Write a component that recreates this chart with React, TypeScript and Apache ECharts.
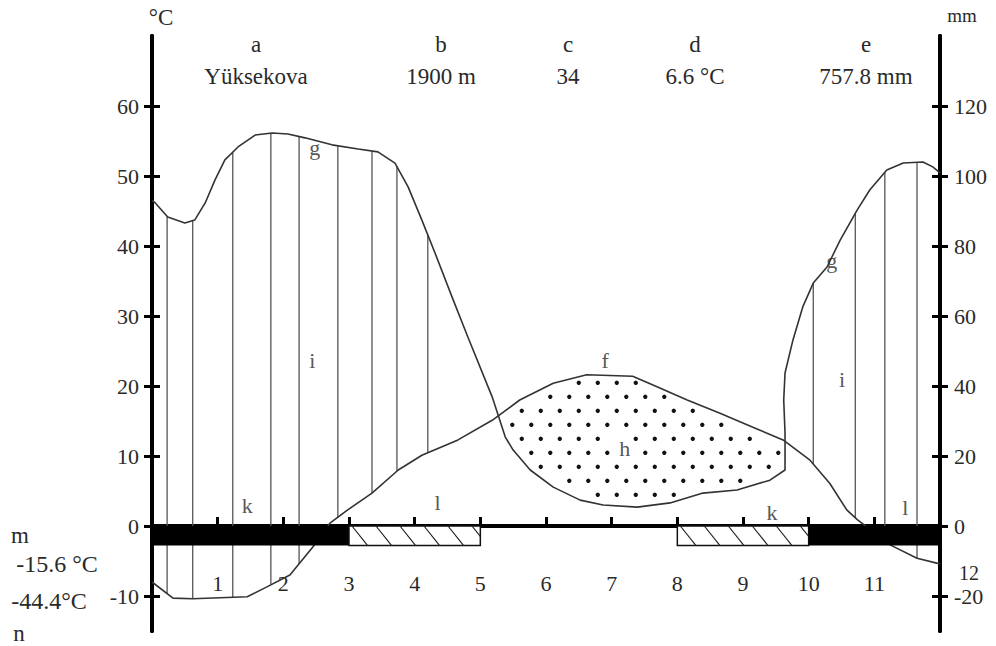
import React, { useEffect, useRef } from "react";
import * as echarts from "echarts";

// ---------- data ----------
const monthTicks = [1, 2, 3, 4, 5, 6, 7, 8, 9, 10, 11];
const lastMonthLabel = "12";
const temperatureTicks = [-10, 0, 10, 20, 30, 40, 50, 60];
const precipitationTicks = [-20, 0, 20, 40, 60, 80, 100, 120];

const stationLetters = ["a", "b", "c", "d", "e"];
const stationValues = ["Yüksekova", "1900 m", "34", "6.6 °C", "757.8 mm"];
const extremeLetters = ["m", "n"];
const extremeValues = ["-15.6 °C", "-44.4°C"];

// [month position, °C]
const temperatureCurve: [number, number][] = [
  [0, -8.0], [0.32, -10.3], [0.62, -10.4], [1.45, -10.1], [1.75, -8.7], [2.1, -7.0],
  [2.44, -3.1], [2.71, 0.4], [2.98, 2.3], [3.35, 4.7], [3.75, 8.0], [4.11, 10.1],
  [4.66, 12.3], [5.18, 15.1], [5.6, 18.0], [6.11, 20.4], [6.62, 21.6], [7.32, 21.4],
  [7.69, 19.9], [8.15, 18.0], [8.65, 16.1], [9.15, 14.1], [9.61, 12.3], [10.02, 9.4],
  [10.32, 6.1], [10.58, 2.3], [10.74, 0.9], [11.24, -2.7], [11.65, -4.6], [11.95, -5.3],
  [12, -5.4],
];

// [month position, mm]
const precipitationCurve: [number, number][] = [
  [0, 93.0], [0.05, 92.3], [0.24, 88.3], [0.5, 86.6], [0.65, 87.4], [0.81, 92.3],
  [0.96, 98.9], [1.11, 104.6], [1.31, 108.3], [1.57, 111.7], [1.83, 112.3], [2.07, 112.0],
  [2.33, 110.9], [2.74, 108.9], [3.14, 107.7], [3.44, 106.9], [3.7, 103.7], [3.9, 96.9],
  [4.11, 87.4], [4.31, 78.0], [4.57, 65.4], [4.81, 54.0], [5.18, 36.9], [5.38, 25.4],
  [5.5, 21.7], [5.76, 16.0], [6.11, 11.1], [6.52, 7.4], [6.87, 6.0], [7.39, 5.4],
  [7.89, 6.6], [8.39, 9.4], [8.91, 10.3], [9.41, 13.1], [9.64, 16.0], [9.64, 26.6],
  [9.62, 36.0], [9.64, 43.7], [9.76, 53.1], [9.91, 62.6], [10.07, 69.4], [10.28, 74.0],
  [10.48, 81.7], [10.74, 90.3], [10.93, 96.0], [11.19, 101.7], [11.44, 103.7],
  [11.74, 104.0], [11.89, 102.6], [12, 100.9],
];

// positions of the vertical hatch lines in the humid period (month positions)
const humidHatchMonths = [0.23, 0.62, 1.23, 1.81, 2.24, 2.83, 3.35, 3.73, 4.2, 10.07, 10.71, 11.16, 11.65];
// dry (arid) period: [start, end] month positions
const aridPeriod = [5.22, 9.64];
// frost spans: [start, end, 1 = certain frost (black), 0 = probable frost (hatched)]
const frostSpans: [number, number, number][] = [
  [0, 3, 1], [3, 5, 0], [8, 10, 0], [10, 12, 1],
];
const annotationNames = ["g", "g", "i", "i", "f", "h", "k", "k", "l", "l"];
const annotationPositions: [number, number][] = [
  [2.48, 54.1], [10.35, 38.0], [2.44, 23.7], [10.51, 20.9], [6.9, 23.7],
  [7.2, 11.1], [1.45, 3.0], [9.44, 1.9], [4.35, 3.4], [11.47, 2.7],
];

// ---------- helpers ----------
const SERIF = "Liberation Serif, Times New Roman, serif";
const TEXT = "#2a2a2a";
const FROST_DEPTH = -2.8;
const X_AXIS_OFFSET = -105; // moves the month axis up to the 0 °C line

function interp(data: [number, number][], m: number): number {
  for (let i = 0; i < data.length - 1; i++) {
    const [m0, v0] = data[i];
    const [m1, v1] = data[i + 1];
    if (m1 !== m0 && m >= Math.min(m0, m1) && m <= Math.max(m0, m1)) {
      return v0 + ((v1 - v0) * (m - m0)) / (m1 - m0);
    }
  }
  return data[data.length - 1][1];
}

function inPolygon(pt: number[], poly: number[][]): boolean {
  let inside = false;
  for (let i = 0, j = poly.length - 1; i < poly.length; j = i++) {
    const xi = poly[i][0], yi = poly[i][1], xj = poly[j][0], yj = poly[j][1];
    if (yi > pt[1] !== yj > pt[1] && pt[0] < ((xj - xi) * (pt[1] - yi)) / (yj - yi) + xi) inside = !inside;
  }
  return inside;
}

function txt(text: string, x: number, y: number, size = 22) {
  return {
    type: "text",
    x,
    y,
    style: {
      text,
      fill: TEXT,
      fontSize: size,
      fontFamily: SERIF,
      textAlign: "center",
      textVerticalAlign: "middle",
    },
  };
}

export default function App() {
  const ref = useRef<HTMLDivElement>(null);

  useEffect(() => {
    if (!ref.current) return;
    const chart = echarts.init(ref.current, undefined, { renderer: "svg" });

    const headerX = [256, 441, 568, 695, 866];
    const graphic: any[] = [
      txt("°C", 161, 17, 23),
      txt("mm", 962, 15, 19),
      ...stationLetters.map((l, i) => txt(l, headerX[i], 44, 23)),
      ...stationValues.map((v, i) => txt(v, headerX[i], 76, 23)),
      txt(extremeLetters[0], 20, 535, 23),
      txt(extremeValues[0], 57, 564, 24),
      txt(extremeValues[1], 49, 601, 24),
      txt(extremeLetters[1], 19, 633, 23),
      txt(lastMonthLabel, 969, 573, 20),
    ];

    const yBase = {
      type: "value",
      splitLine: { show: false },
      axisLine: { show: true, onZero: false, lineStyle: { color: "#000", width: 4 } },
    };

    const option: any = {
      animation: false,
      backgroundColor: "#fff",
      grid: { left: 152, right: 56, top: 36, bottom: 15, containLabel: false, outerBoundsMode: "none" },
      xAxis: {
        type: "value",
        position: "bottom",
        offset: X_AXIS_OFFSET,
        min: 0,
        max: 12,
        interval: 1,
        splitLine: { show: false },
        axisLine: { show: true, onZero: false, lineStyle: { color: "#000", width: 4 } },
        axisTick: { show: true, inside: true, length: 9, lineStyle: { color: "#000", width: 3 } },
        axisLabel: {
          show: true,
          margin: 46,
          fontSize: 22,
          fontFamily: SERIF,
          color: TEXT,
          formatter: (v: number) => (monthTicks.includes(v) ? String(v) : ""),
        },
      },
      yAxis: [
        {
          ...yBase,
          position: "left",
          min: -15,
          max: 70,
          axisTick: { show: true, inside: false, length: 8, customValues: temperatureTicks, lineStyle: { color: "#000", width: 3 } },
          axisLabel: { show: true, margin: 13, fontSize: 22, fontFamily: SERIF, color: TEXT, customValues: temperatureTicks },
        },
        {
          ...yBase,
          position: "right",
          min: -30,
          max: 140,
          axisTick: { show: true, inside: false, length: 8, customValues: precipitationTicks, lineStyle: { color: "#000", width: 3 } },
          axisLabel: { show: true, margin: 14, fontSize: 22, fontFamily: SERIF, color: TEXT, customValues: precipitationTicks },
        },
        {
          ...yBase,
          position: "left",
          min: -15,
          max: 70,
          axisTick: { show: true, inside: true, length: 8, customValues: temperatureTicks, lineStyle: { color: "#000", width: 3 } },
          axisLabel: { show: false },
        },
        {
          ...yBase,
          position: "right",
          min: -30,
          max: 140,
          axisTick: { show: true, inside: true, length: 8, customValues: precipitationTicks, lineStyle: { color: "#000", width: 3 } },
          axisLabel: { show: false },
        },
      ],
      graphic,
      series: [
        {
          name: "humid",
          type: "custom",
          xAxisIndex: 0,
          yAxisIndex: 0,
          z: 1,
          data: humidHatchMonths.map((m) => [m, 0]),
          renderItem: (_p: any, api: any) => {
            const m = api.value(0);
            const top = api.coord([m, interp(precipitationCurve, m) / 2]);
            const bot = api.coord([m, interp(temperatureCurve, m)]);
            return {
              type: "line",
              shape: { x1: top[0], y1: top[1], x2: bot[0], y2: bot[1] },
              style: { stroke: "#555", lineWidth: 1.3 },
            };
          },
        },
        {
          name: "arid",
          type: "custom",
          xAxisIndex: 0,
          yAxisIndex: 0,
          z: 2,
          data: [[aridPeriod[0], aridPeriod[1]]],
          renderItem: (_p: any, api: any) => {
            const a = api.value(0);
            const b = api.value(1);
            const tb = interp(temperatureCurve, b);
            const upper: number[][] = [[a, interp(temperatureCurve, a)]];
            temperatureCurve.forEach(([m, t]) => { if (m > a && m < b) upper.push([m, t]); });
            upper.push([b, tb]);
            const lower: number[][] = [[a, interp(precipitationCurve, a) / 2]];
            precipitationCurve.forEach(([m, p]) => {
              if (m > a && (m < b || (m === b && p / 2 <= tb))) lower.push([m, p / 2]);
            });
            const poly = [...upper, ...lower.reverse()].map((d) => api.coord(d));
            const xs = poly.map((p) => p[0]);
            const ys = poly.map((p) => p[1]);
            const minX = Math.min(...xs), maxX = Math.max(...xs);
            const minY = Math.min(...ys), maxY = Math.max(...ys);
            const hPos = api.coord(annotationPositions[5]);
            const children: any[] = [
              { type: "polygon", shape: { points: poly }, style: { fill: "#fff", stroke: "none" } },
            ];
            const sx = 19, sy = 14;
            let row = 0;
            for (let y = minY + 8; y < maxY - 4; y += sy, row++) {
              for (let x = minX + 8 + (row % 2 ? sx / 2 : 0); x < maxX - 4; x += sx) {
                if (Math.hypot(x - hPos[0], y - hPos[1]) < 13) continue;
                if (inPolygon([x, y], poly) && inPolygon([x, y - 5], poly) && inPolygon([x, y + 5], poly) && inPolygon([x + 5, y], poly) && inPolygon([x - 5, y], poly)) {
                  children.push({ type: "circle", shape: { cx: x, cy: y, r: 2.2 }, style: { fill: "#111" } });
                }
              }
            }
            return { type: "group", children };
          },
        },
        {
          name: "Temperature",
          type: "line",
          xAxisIndex: 0,
          yAxisIndex: 0,
          z: 3,
          showSymbol: false,
          data: temperatureCurve,
          lineStyle: { color: "#333", width: 1.6 },
        },
        {
          name: "Precipitation",
          type: "line",
          xAxisIndex: 0,
          yAxisIndex: 1,
          z: 3,
          showSymbol: false,
          data: precipitationCurve,
          lineStyle: { color: "#333", width: 1.6 },
        },
        {
          name: "frost",
          type: "custom",
          xAxisIndex: 0,
          yAxisIndex: 0,
          z: 5,
          data: frostSpans,
          renderItem: (_p: any, api: any) => {
            const s = api.value(0), e = api.value(1), solid = api.value(2);
            const [x0, y0] = api.coord([s, 0]);
            const [x1, y1] = api.coord([e, FROST_DEPTH]);
            const w = x1 - x0, h = y1 - y0;
            if (solid) {
              return { type: "rect", shape: { x: x0, y: y0, width: w, height: h }, style: { fill: "#000" } };
            }
            const children: any[] = [
              { type: "rect", shape: { x: x0, y: y0, width: w, height: h }, style: { fill: "#fff", stroke: "#111", lineWidth: 1.5 } },
            ];
            const run = h * 0.8;
            for (let x = x0 + 3; x < x1 - 2; x += 24) {
              let xe = x + run, ye = y1;
              if (xe > x1) { ye = y0 + (h * (x1 - x)) / run; xe = x1; }
              children.push({ type: "line", shape: { x1: x, y1: y0, x2: xe, y2: ye }, style: { stroke: "#222", lineWidth: 1.2 } });
            }
            return { type: "group", children };
          },
        },
        {
          name: "annotations",
          type: "scatter",
          xAxisIndex: 0,
          yAxisIndex: 0,
          z: 6,
          symbolSize: 1,
          itemStyle: { color: "rgba(0,0,0,0)" },
          data: annotationNames.map((n, i) => ({ name: n, value: annotationPositions[i] })),
          label: {
            show: true,
            position: "inside",
            formatter: "{b}",
            fontSize: 22,
            fontFamily: SERIF,
            color: TEXT,
          },
          silent: true,
        },
      ],
    };

    chart.setOption(option);
    return () => chart.dispose();
  }, []);

  return (
    <div
      ref={ref}
      style={{ position: "absolute", left: 0, top: 0, width: 996, height: 646, background: "#fff" }}
    />
  );
}
